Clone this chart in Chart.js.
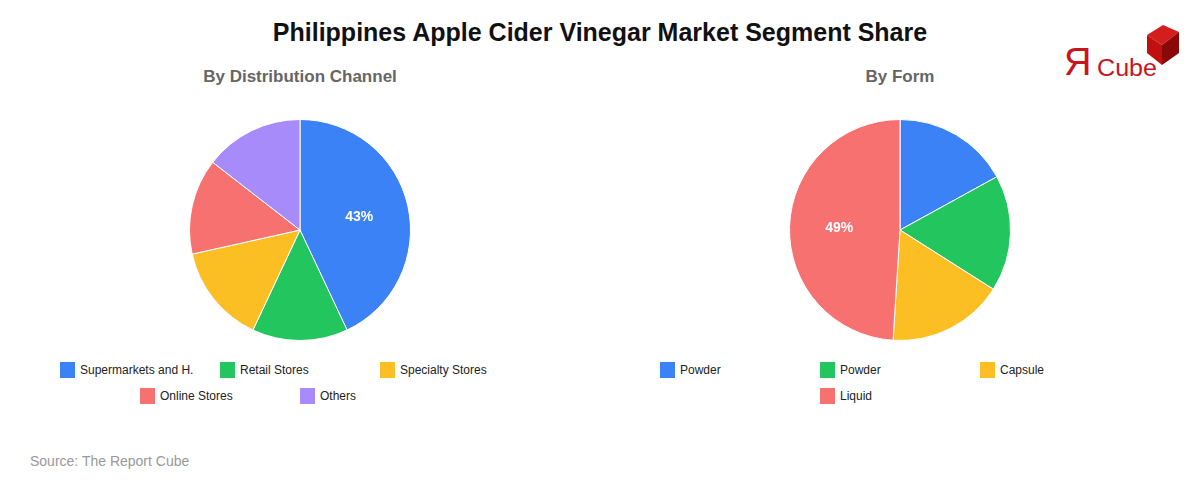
<!DOCTYPE html>
<html>
<head>
<meta charset="utf-8">
<script src="https://cdn.jsdelivr.net/npm/chart.js@4/dist/chart.umd.min.js"></script>
<style>
  body { margin: 0; background: #fff; font-family: "Liberation Sans", Arial, sans-serif; }
  #wrap { position: relative; width: 1200px; height: 480px; overflow: hidden; }
  h1 { position: absolute; top: 18px; left: 0; width: 1200px; margin: 0; text-align: center;
       font-size: 25px; font-weight: bold; color: #111; }
  .sub { position: absolute; top: 67px; width: 600px; margin: 0; text-align: center;
         font-size: 17px; font-weight: bold; color: #666; }
  .pie { position: absolute; top: 119px; }
  .legend { position: absolute; top: 362px; width: 480px; display: flex; flex-wrap: wrap;
            justify-content: center; }
  .legend .item { width: 160px; height: 26px; display: flex; align-items: flex-start;
                  font-size: 12px; color: #222; }
  .legend .box { width: 15px; height: 16px; margin-right: 5px; flex: none; }
  .legend .txt { line-height: 17px; }
  #source { position: absolute; left: 30px; top: 453px; font-size: 14px; color: #999; }
  #logo { position: absolute; left: 1060px; top: 20px; width: 130px; height: 62px; overflow: visible; }
</style>
</head>
<body>
<div id="wrap">
  <h1>Philippines Apple Cider Vinegar Market Segment Share</h1>
  <div class="sub" style="left:0">By Distribution Channel</div>
  <div class="sub" style="left:600px">By Form</div>
  <canvas id="pieLeft" class="pie" style="left:189px"></canvas>
  <canvas id="pieRight" class="pie" style="left:789px"></canvas>
  <div id="legendLeft" class="legend" style="left:60px"></div>
  <div id="legendRight" class="legend" style="left:660px"></div>
  <div id="source">Source: The Report Cube</div>
  <svg id="logo" viewBox="0 0 130 62">
    <text x="4" y="55" font-family="Liberation Sans, Arial" font-size="38" fill="#c8141c">Я</text>
    <text x="37" y="56" font-family="Liberation Sans, Arial" font-size="23" textLength="60"
          lengthAdjust="spacingAndGlyphs" fill="#c8141c">Cube</text>
    <polygon points="87,15 103,5 119,12 102,25" fill="#d41e1e"/>
    <polygon points="87,15 102,25 102,45 87,33" fill="#c01010"/>
    <polygon points="102,25 119,12 119,33 102,45" fill="#8a0808"/>
  </svg>
</div>
<script>
// Distribution channel split
const channelLabels = ["Supermarkets and H.", "Retail Stores", "Specialty Stores", "Online Stores", "Others"];
const channelShares = [43, 14, 14.5, 14, 14.5];
const channelColors = ["#3b82f6", "#22c55e", "#fbbf24", "#f87171", "#a78bfa"];

// Form split
const formLabels = ["Powder", "Powder", "Capsule", "Liquid"];
const formShares = [17, 17, 17, 49];
const formColors = ["#3b82f6", "#22c55e", "#fbbf24", "#f87171"];

// label only the biggest slice, inside it
const biggestLabel = {
  id: "biggestLabel",
  afterDatasetsDraw(chart) {
    const data = chart.data.datasets[0].data;
    const maxIdx = data.indexOf(Math.max(...data));
    const arc = chart.getDatasetMeta(0).data[maxIdx];
    const mid = (arc.startAngle + arc.endAngle) / 2;
    const r = arc.outerRadius * 0.55;
    const c = chart.ctx;
    c.save();
    c.fillStyle = "#fff";
    c.font = "bold 14px 'Liberation Sans', Arial, sans-serif";
    c.textAlign = "center";
    c.textBaseline = "middle";
    c.fillText(Math.round(data[maxIdx]) + "%", arc.x + Math.cos(mid) * r, arc.y + Math.sin(mid) * r);
    c.restore();
  }
};

function makePie(id, labels, values, colors) {
  const cv = document.getElementById(id);
  cv.width = 222;
  cv.height = 222;
  return new Chart(cv.getContext("2d"), {
    type: "pie",
    data: {
      labels: labels,
      datasets: [{
        data: values,
        backgroundColor: colors,
        borderColor: "#fff",
        borderWidth: 1
      }]
    },
    options: {
      responsive: false,
      animation: false,
      layout: { padding: 0 },
      plugins: { legend: { display: false }, tooltip: { enabled: false } }
    },
    plugins: [biggestLabel]
  });
}

function makeLegend(id, labels, colors) {
  const box = document.getElementById(id);
  labels.forEach((l, i) => {
    const item = document.createElement("div");
    item.className = "item";
    item.innerHTML = `<span class="box" style="background:${colors[i]}"></span><span class="txt">${l}</span>`;
    box.appendChild(item);
  });
}

makePie("pieLeft", channelLabels, channelShares, channelColors);
makePie("pieRight", formLabels, formShares, formColors);
makeLegend("legendLeft", channelLabels, channelColors);
makeLegend("legendRight", formLabels, formColors);
</script>
</body>
</html>
